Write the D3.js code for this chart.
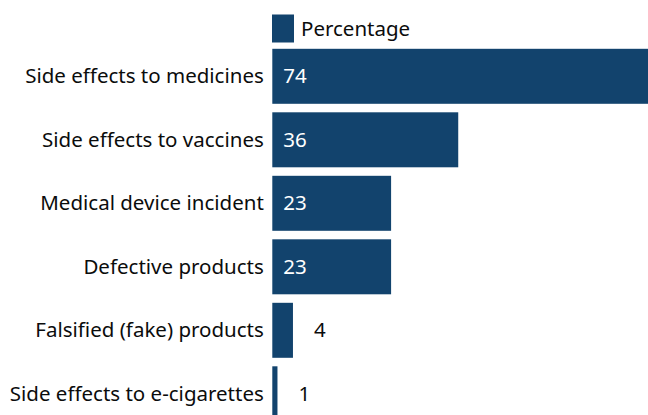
<!DOCTYPE html>
<html>
<head>
<meta charset="utf-8">
<script src="https://cdn.jsdelivr.net/npm/d3@7"></script>
<style>
  html, body { margin: 0; padding: 0; background: #fff; }
  svg { display: block; font-family: "Noto Sans", sans-serif; }
</style>
</head>
<body>
<svg id="chart" width="648" height="415"></svg>
<script>
// Reports by type, as a percentage
const categories = [
  "Side effects to medicines",
  "Side effects to vaccines",
  "Medical device incident",
  "Defective products",
  "Falsified (fake) products",
  "Side effects to e-cigarettes"
];
const percentages = [74, 36, 23, 23, 4, 1];
const seriesName = "Percentage";

const barColor = "#12436d";
const textColor = "#0b0c0c";
const fontSize = "20.5px";

const svg = d3.select("#chart");

const x = d3.scaleLinear().domain([0, 74]).range([272.3, 654.5]);
const y = d3.scaleBand().domain(categories).range([48.8, 421.3]).paddingInner(0.134).paddingOuter(0);

const rows = categories.map((c, i) => ({ cat: c, val: percentages[i] }));
const inside = d => x(d.val) - x(0) > 40;

// bars
svg.append("g").selectAll("rect").data(rows).join("rect")
  .attr("x", x(0))
  .attr("y", d => y(d.cat))
  .attr("width", d => x(d.val) - x(0))
  .attr("height", y.bandwidth())
  .attr("fill", barColor);

// category labels
svg.append("g").selectAll("text").data(rows).join("text")
  .attr("x", x(0) - 8.5)
  .attr("y", d => y(d.cat) + y.bandwidth() / 2)
  .attr("dy", "0.35em")
  .attr("text-anchor", "end")
  .attr("fill", textColor)
  .style("font-size", fontSize)
  .text(d => d.cat);

// value labels: inside for long bars, outside for short ones
svg.append("g").selectAll("text").data(rows).join("text")
  .attr("x", d => inside(d) ? x(0) + 11 : x(d.val) + 21)
  .attr("y", d => y(d.cat) + y.bandwidth() / 2)
  .attr("dy", "0.35em")
  .attr("fill", d => inside(d) ? "#ffffff" : textColor)
  .style("font-size", fontSize)
  .text(d => d.val);

// legend
const legend = svg.append("g");
legend.append("rect")
  .attr("x", 272).attr("y", 14.5).attr("width", 22).attr("height", 28)
  .attr("fill", barColor);
legend.append("text")
  .attr("x", 301).attr("y", 28.5).attr("dy", "0.35em")
  .attr("fill", textColor)
  .style("font-size", fontSize)
  .text(seriesName);
</script>
</body>
</html>
